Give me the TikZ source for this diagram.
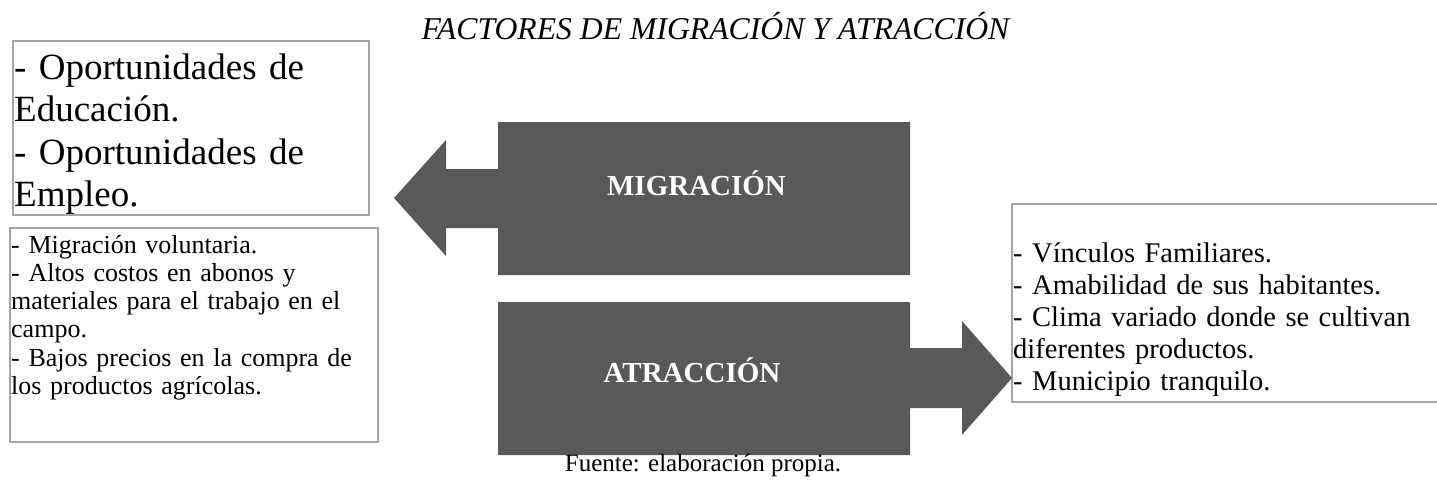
\documentclass[tikz,border=0pt]{standalone}
\usepackage{fontspec}
\setmainfont{Liberation Serif}
\definecolor{boxgray}{HTML}{A6A6A6}
\definecolor{darkfill}{HTML}{595959}
\tikzset{
  txtbox/.style={draw=boxgray, line width=1.4pt},
  blockarrow/.style={fill=darkfill, draw=none},
  boxtext/.style={anchor=base west, inner sep=0pt, align=left},
  blocklabel/.style={anchor=base, inner sep=0pt, text=white, font=\fontsize{29}{33}\selectfont\bfseries},
}
\begin{document}
\begin{tikzpicture}[x=1pt, y=-1pt]
\useasboundingbox (0,0) rectangle (1437,485);
% title
\node[anchor=base, inner sep=0pt, font=\fontsize{31.7}{36}\selectfont\itshape] (title) at (715.5,39) {FACTORES DE MIGRACIÓN Y ATRACCIÓN};
% boxes
\draw[txtbox] (13,41) rectangle (369,215);
\coordinate (tl) at (14,79);
\node[boxtext, text width=400pt, font=\fontsize{37}{42.5}\selectfont] (edu) at (tl) {- Oportunidades de\\Educación.\\- Oportunidades de\\Empleo.};
\draw[txtbox] (10,228) rectangle (378,442);
\node[boxtext, text width=400pt, font=\fontsize{26}{28.3}\selectfont] (vol) at (11,253) {- Migración voluntaria.\\- Altos costos en abonos y\\materiales para el trabajo en el\\campo.\\- Bajos precios en la compra de\\los productos agrícolas.};
\draw[txtbox] (1012,204) rectangle (1460,402);
\node[boxtext, text width=430pt, font=\fontsize{28.5}{32}\selectfont] (vin) at (1013,262) {- Vínculos Familiares.\\- Amabilidad de sus habitantes.\\- Clima variado donde se cultivan\\diferentes productos.\\- Municipio tranquilo.};
% block arrows
\fill[blockarrow] (498,122) -- (910,122) -- (910,275) -- (498,275) -- (498,228) -- (446,228) -- (446,256) -- (394,198) -- (446,140) -- (446,169) -- (498,169) -- cycle;
\fill[blockarrow] (498,302) -- (910,302) -- (910,348) -- (962,348) -- (962,321) -- (1012,378) -- (962,435) -- (962,408) -- (910,408) -- (910,455) -- (498,455) -- cycle;
\node[blocklabel] (mig) at (696.5,195) {MIGRACIÓN};
\node[blocklabel] (atr) at (692,382) {ATRACCIÓN};
% source
\node[anchor=base, inner sep=0pt, font=\fontsize{25}{29}\selectfont] (src) at (703,471) {Fuente: elaboración propia.};
\end{tikzpicture}
\end{document}
